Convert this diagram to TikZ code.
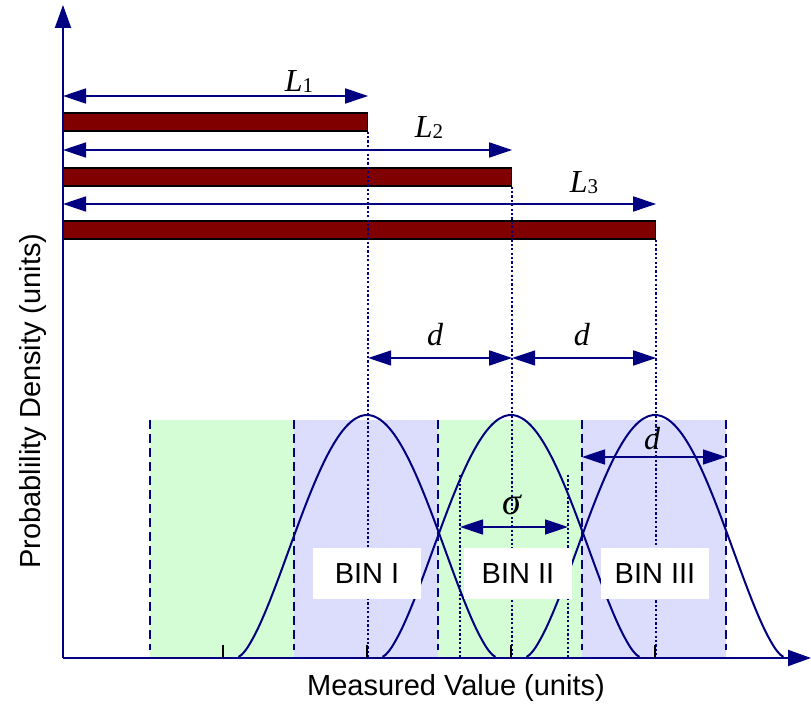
\documentclass[tikz,border=0pt]{standalone}
\usepackage{fontspec}
\setmainfont{Liberation Serif}
\setsansfont{Liberation Sans}
\usepackage{xcolor}
\usetikzlibrary{arrows.meta, positioning}

\definecolor{navyline}{RGB}{0,0,128}
\definecolor{barred}{RGB}{128,0,0}
\definecolor{bingreen}{RGB}{213,253,213}
\definecolor{binblue}{RGB}{220,220,252}

\begin{document}
\begin{tikzpicture}[x=0.5pt, y=-0.5pt,
    axisline/.style={navyline, line width=1pt, -{Triangle[length=11.5pt, width=8pt]}},
    dimarrow/.style={navyline, line width=0.75pt, {Triangle[length=11.5pt, width=7.5pt]}-{Triangle[length=11.5pt, width=7.5pt]}},
    guide/.style={navyline, line width=0.85pt, dash pattern=on 1.1pt off 1.1pt},
    binedge/.style={navyline, line width=1pt, dash pattern=on 4.5pt off 2.5pt},
    barbox/.style={rectangle, draw=black, fill=barred, line width=0.6pt, minimum height=9pt, inner sep=0pt, anchor=west},
    bump/.style={navyline, line width=1pt},
    binlabel/.style={rectangle, fill=white, minimum width=54pt, minimum height=25.5pt, font=\sffamily\fontsize{14.5}{17}\selectfont},
    symlabel/.style={inner sep=0pt, font=\fontsize{16}{19}\selectfont\itshape}]
    \useasboundingbox (0,0) rectangle (811,705);

    % Origin and axis ends
    \coordinate (o) at (63,658);
    \coordinate (ytip) at (63,5);
    \coordinate (xtip) at (811,658);

    % Bin shading
    \fill[bingreen] (150,420) rectangle (294,658);
    \fill[binblue] (294,420) rectangle (438,658);
    \fill[bingreen] (438,420) rectangle (582,658);
    \fill[binblue] (582,420) rectangle (726,658);
    \foreach \x in {150,294,438,582,726}
        \draw[binedge] (\x,420) -- (\x,650);

    % Bars
    \node[barbox, minimum width=152pt] (bar1) at (63,122) {};
    \node[barbox, minimum width=224pt] (bar2) at (63,177) {};
    \node[barbox, minimum width=296pt] (bar3) at (63,230) {};

    % Guides down to the axis
    \draw[guide] (bar1.south east) -- (bar1.south east |- o);
    \draw[guide] (bar2.south east) -- (bar2.south east |- o);
    \draw[guide] (bar3.south east) -- (bar3.south east |- o);

    % Sigma guides
    \coordinate (s1) at (460,475);
    \coordinate (s2) at (568,475);
    \draw[guide] (s1) -- (s1 |- o);
    \draw[guide] (s2) -- (s2 |- o);

    % Distributions
    \foreach \c in {367,511,655}
        \draw[bump] plot[domain=-128.5:128.5, samples=81, smooth]
            ({\c+\x}, {657-242*abs(cos(90*\x/129))^1.5});

    % Bin labels
    \node[binlabel] (bin1) at (367,574) {BIN I};
    \node[binlabel] (bin2) at (518,574) {BIN II};
    \node[binlabel] (bin3) at (655,574) {BIN III};

    % Length arrows
    \coordinate (l1) at (63,96);
    \coordinate (l2) at (63,150);
    \coordinate (l3) at (63,204);
    \draw[dimarrow] (l1) -- (l1 -| bar1.east);
    \draw[dimarrow] (l2) -- (l2 -| bar2.east);
    \draw[dimarrow] (l3) -- (l3 -| bar3.east);
    \node[symlabel] (L1) at (299,82) {L\raisebox{-0.5pt}{\fontsize{10.5}{11}\selectfont\upshape 1}};
    \node[symlabel] (L2) at (429,128) {L\raisebox{-0.5pt}{\fontsize{10.5}{11}\selectfont\upshape 2}};
    \node[symlabel] (L3) at (584,183) {L\raisebox{-0.5pt}{\fontsize{10.5}{11}\selectfont\upshape 3}};

    % Spacing arrows
    \coordinate (dlev) at (63,358);
    \draw[dimarrow] (bar1.east |- dlev) -- (bar2.east |- dlev);
    \draw[dimarrow] (bar2.east |- dlev) -- (bar3.east |- dlev);
    \node[symlabel] (dA) at (435,335) {d};
    \node[symlabel] (dB) at (582,335) {d};

    % Bin width
    \coordinate (w1) at (582,457);
    \coordinate (w2) at (726,457);
    \draw[dimarrow] (w1) -- (w2);
    \node[symlabel] (dC) at (652,439) {d};

    % Sigma
    \coordinate (slev) at (63,527);
    \draw[dimarrow] (s1 |- slev) -- (s2 |- slev);
    \node[symlabel, font=\fontsize{19}{22}\selectfont\itshape] (sig) at (512,505) {σ};

    % Axes
    \draw[axisline] (o) -- (ytip);
    \draw[axisline] (o) -- (xtip);
    \foreach \x in {223,367,511,655}
        \draw[black, line width=1.2pt] (\x,645) -- (\x,658);

    % Axis titles
    \node[anchor=base, font=\sffamily\fontsize{14.5}{17}\selectfont] (xlab) at (456,696) {Measured Value (units)};
    \node[rotate=90, anchor=base, font=\sffamily\fontsize{14.5}{17}\selectfont] (ylab) at (40,401) {Probablility Density (units)};
\end{tikzpicture}
\end{document}
